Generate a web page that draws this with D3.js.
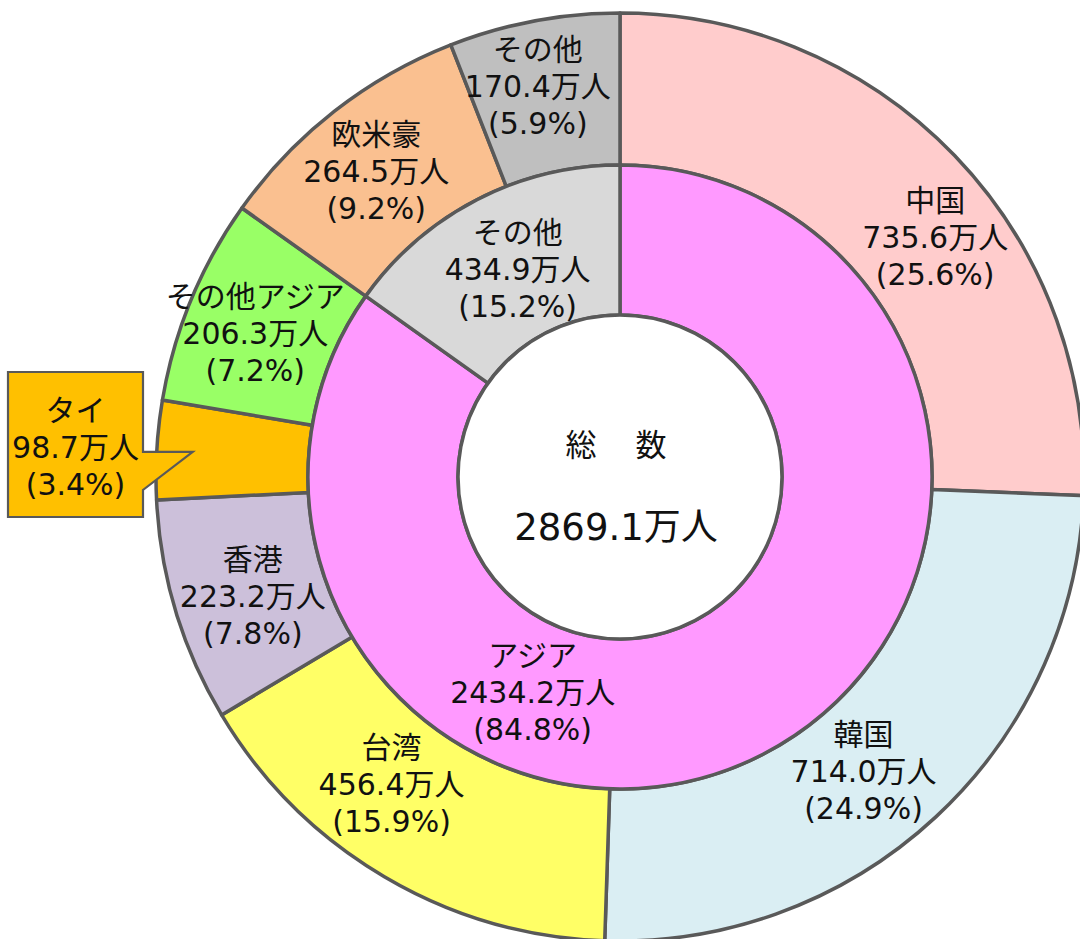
<!DOCTYPE html>
<html>
<head>
<meta charset="utf-8">
<script src="https://cdn.jsdelivr.net/npm/d3@7/dist/d3.min.js"></script>
<style>
html,body{margin:0;padding:0;background:#fff;}
svg{display:block;}
text{font-family:"DejaVu Sans","Noto Sans CJK JP",sans-serif;fill:#111;}
</style>
</head>
<body>
<svg id="chart" width="1080" height="939"></svg>
<script>
// ---- data ----
const outerCategories = ["中国","韓国","台湾","香港","タイ","その他アジア","欧米豪","その他"];
const outerValues = [735.6, 714.0, 456.4, 223.2, 98.7, 206.3, 264.5, 170.4];
const innerCategories = ["アジア","その他"];
const innerValues = [2434.2, 434.9];
const totalLabel = "総　数";
const totalValue = 2869.1;
const unit = "万人";

// ---- styles ----
const outerColors = ["#FFCCCC","#DAEEF3","#FFFF66","#CCC0DA","#FFC000","#99FF66","#FAC090","#BFBFBF"];
const innerColors = ["#FF99FF","#D9D9D9"];
const strokeColor = "#595959";

const cx = 620, cy = 477;
const rOuter = 464, rMid = 312, rInner = 162;

const svg = d3.select("#chart");
const g = svg.append("g").attr("transform", `translate(${cx},${cy})`);

const pie = d3.pie().sort(null).value(d => d.value).startAngle(0).endAngle(2*Math.PI);
const total = d3.sum(outerValues);

const outerData = pie(outerCategories.map((c,i)=>({name:c,value:outerValues[i],color:outerColors[i]})));
const innerData = pie(innerCategories.map((c,i)=>({name:c,value:innerValues[i],color:innerColors[i]})));

const arcOuter = d3.arc().innerRadius(rMid).outerRadius(rOuter);
const arcInner = d3.arc().innerRadius(rInner).outerRadius(rMid);

g.selectAll("path.outer").data(outerData).join("path")
  .attr("class","outer")
  .attr("d", arcOuter)
  .attr("fill", d => d.data.color)
  .attr("stroke", strokeColor).attr("stroke-width", 3.5).attr("stroke-linejoin","round");

g.selectAll("path.inner").data(innerData).join("path")
  .attr("class","inner")
  .attr("d", arcInner)
  .attr("fill", d => d.data.color)
  .attr("stroke", strokeColor).attr("stroke-width", 3.5).attr("stroke-linejoin","round");

g.append("circle").attr("r", rInner).attr("fill","#fff")
  .attr("stroke", strokeColor).attr("stroke-width", 3.5);

// label placement: angle shift (deg) and radius from the slice centroid angle
const outerNudge = {
  "中国":[6.6,396], "韓国":[3.3,382], "台湾":[6.1,383], "香港":[-1.1,386],
  "その他アジア":[-1.0,392], "欧米豪":[-0.6,391], "その他":[-1.2,399]
};
const innerNudge = { "アジア":[49.4,232], "その他":[1.1,232] };

const fontSize = 30, lineGap = 37;
const fmtPct = v => "(" + (v/total*100).toFixed(1) + "%)";

function drawLabel(x, y, lines){
  const t = g.append("text").attr("text-anchor","middle").attr("font-size", fontSize);
  lines.forEach((s,i)=>{
    t.append("tspan").attr("x", x).attr("y", y + (i-1)*lineGap).attr("dy","0.36em").text(s);
  });
}
function polar(angleRad, r){ return [Math.sin(angleRad)*r, -Math.cos(angleRad)*r]; }

outerData.forEach(d=>{
  const n = outerNudge[d.data.name];
  if(!n) return;
  const mid = (d.startAngle + d.endAngle)/2 + n[0]*Math.PI/180;
  const [x,y] = polar(mid, n[1]);
  drawLabel(x, y, [d.data.name, d.data.value.toFixed(1)+unit, fmtPct(d.data.value)]);
});
innerData.forEach(d=>{
  const n = innerNudge[d.data.name];
  const mid = (d.startAngle + d.endAngle)/2 + n[0]*Math.PI/180;
  const [x,y] = polar(mid, n[1]);
  drawLabel(x, y, [d.data.name, d.data.value.toFixed(1)+unit, fmtPct(d.data.value)]);
});

// center
g.append("text").attr("text-anchor","middle").attr("font-size",31)
  .attr("x",-2).attr("y",-32).attr("dy","0.36em").attr("letter-spacing","4px").text(totalLabel);
g.append("text").attr("text-anchor","middle").attr("font-size",37)
  .attr("x",-4).attr("y",50).attr("dy","0.36em").text(totalValue.toFixed(1)+unit);

// callout for タイ
const thai = outerData.find(d=>d.data.name==="タイ");
const thaiMid = (thai.startAngle+thai.endAngle)/2;
const tip = polar(thaiMid, 428);
const bx0 = 8 - cx, by0 = 372 - cy, bx1 = 143 - cx, by1 = 517 - cy;
const py0 = tip[1], py1 = tip[1] + 38;
const callout = `M${bx0},${by0} L${bx1},${by0} L${bx1},${py0} L${tip[0]},${tip[1]} L${bx1},${py1} L${bx1},${by1} L${bx0},${by1} Z`;
g.append("path").attr("d", callout).attr("fill", thai.data.color)
  .attr("stroke", strokeColor).attr("stroke-width", 2.2).attr("stroke-linejoin","miter");
drawLabel((bx0+bx1)/2, 447 - cy, [thai.data.name, thai.data.value.toFixed(1)+unit, fmtPct(thai.data.value)]);
</script>
</body>
</html>
